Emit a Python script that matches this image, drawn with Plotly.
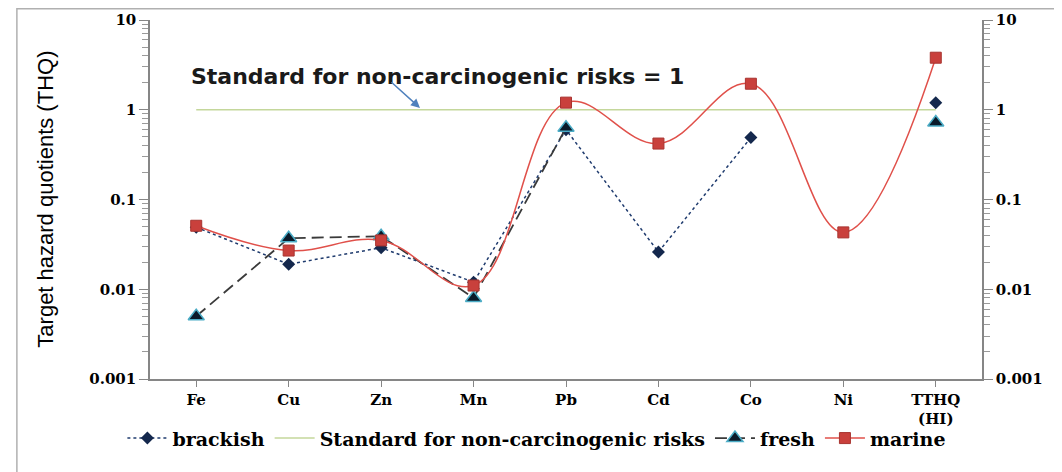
import plotly.graph_objects as go

categories = ["Fe", "Cu", "Zn", "Mn", "Pb", "Cd", "Co", "Ni", "TTHQ<br>(HI)"]
brackish = [0.049, 0.019, 0.029, 0.012, 0.60, 0.026, 0.49, None, 1.2]
fresh = [0.005, 0.037, 0.039, 0.008, 0.63, None, None, None, 0.72]
marine = [0.051, 0.027, 0.035, 0.011, 1.2, 0.42, 1.95, 0.043, 3.8]
standard = [1, 1, 1, 1, 1, 1, 1, 1, 1]
y_tickvals = [0.001, 0.01, 0.1, 1, 10]
y_ticktext = ["0.001", "0.01", "0.1", "1", "10"]

serif = "DejaVu Serif"
minor_vals = [k * 10 ** e for e in range(-3, 1) for k in range(2, 10)]

fig = go.Figure()
fig.add_trace(go.Scatter(
    x=categories, y=brackish, name="brackish", mode="lines+markers",
    line=dict(color="#1f3b6e", width=1.5, dash="dot"),
    marker=dict(symbol="diamond", size=10, color="#14284d"),
    connectgaps=False))
fig.add_trace(go.Scatter(
    x=categories, y=standard, name="Standard for non-carcinogenic risks", mode="lines",
    line=dict(color="#c4d79b", width=1.5)))
fig.add_trace(go.Scatter(
    x=categories, y=fresh, name="fresh", mode="lines+markers",
    line=dict(color="#3a3a3a", width=1.8, dash="12px,6px"),
    marker=dict(symbol="triangle-up", size=14, color="#0a1a2a",
                line=dict(color="#4bacc6", width=1.5)),
    connectgaps=False))
fig.add_trace(go.Scatter(
    x=categories, y=marine, name="marine", mode="lines+markers",
    line=dict(color="#e0504a", width=1.5, shape="spline", smoothing=1.1),
    marker=dict(symbol="square", size=11, color="#c9403c",
                line=dict(color="#a83430", width=1))))
# invisible trace for the right axis
fig.add_trace(go.Scatter(x=categories, y=standard, yaxis="y2", mode="lines",
                         line=dict(width=0), showlegend=False, hoverinfo="skip",
                         opacity=0))

axis_y = dict(
    type="log", range=[-3, 1], tickvals=y_tickvals, ticktext=y_ticktext,
    showgrid=False, zeroline=False, showline=True, linecolor="#868686", linewidth=1.5,
    ticks="outside", ticklen=9, tickcolor="#868686", tickwidth=1.2,
    tickfont=dict(family=serif, size=15, color="black", weight="bold"),
    minor=dict(ticks="outside", ticklen=6, tickcolor="#9a9a9a", tickwidth=1,
               tickvals=minor_vals, showgrid=False),
    automargin=False,
)

fig.update_layout(
    width=1062, height=472,
    margin=dict(l=142, r=88, t=12, b=101, autoexpand=False),
    paper_bgcolor="white", plot_bgcolor="white",
    showlegend=True,
    legend=dict(orientation="h", x=0.465, xanchor="center", y=-0.165, yanchor="middle",
                font=dict(family=serif, size=19, color="black", weight="bold"),
                bgcolor="rgba(0,0,0,0)", itemwidth=40, tracegroupgap=0),
    xaxis=dict(showgrid=False, showline=True, linecolor="#868686", linewidth=1.5,
               ticks="outside", ticklen=6, tickcolor="#868686",
               tickfont=dict(family=serif, size=15, color="black", weight="bold"),
               range=[-0.5, 8.5], automargin=False),
    yaxis=dict(**axis_y),
    yaxis2=dict(**axis_y, overlaying="y", side="right"),
    shapes=[dict(type="rect", xref="paper", yref="paper",
                 x0=-0.16, x1=1.12, y0=-0.3, y1=1.031,
                 line=dict(color="#b0b0b0", width=1.5), fillcolor="rgba(0,0,0,0)",
                 layer="below")],
    annotations=[
        dict(text="Target hazard quotients (THQ)", xref="paper", yref="paper",
             x=-0.126, y=0.5, xanchor="center", yanchor="middle",
             textangle=-90, showarrow=False,
             font=dict(family="Liberation Sans Narrow, Arial Narrow, Liberation Sans", size=22, color="black")),
        dict(text="Standard for non-carcinogenic risks = 1", xref="paper", yref="paper",
             x=0.345, y=0.883, xanchor="center", showarrow=False,
             font=dict(family="DejaVu Sans", size=22, color="#1a1a1a", weight="bold")),
        dict(text="", xref="paper", yref="y", x=0.3245, y=0.02,
             showarrow=True, ax=-30, ay=-27, arrowhead=2, arrowsize=1.2,
             arrowwidth=1.5, arrowcolor="#4f81bd"),
    ],
)

fig.write_html("out.html")
